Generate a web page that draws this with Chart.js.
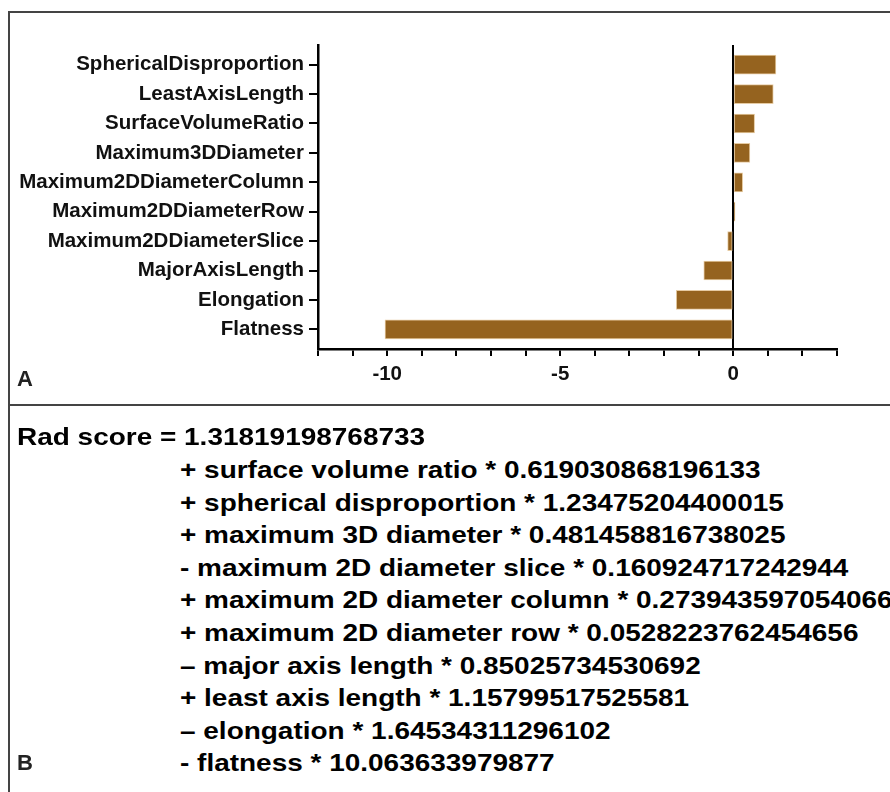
<!DOCTYPE html>
<html>
<head>
<meta charset="utf-8">
<script src="https://cdn.jsdelivr.net/npm/chart.js@4.4.1/dist/chart.umd.min.js"></script>
<style>
  html, body { margin:0; padding:0; background:#fff; width:890px; height:792px; overflow:hidden; }
  #wrap { position:relative; width:890px; height:792px; }
  #c { position:absolute; left:0; top:0; }
  .ln { position:absolute; background:#444; }
  .panel { position:absolute; font-family:"Liberation Sans", Arial, sans-serif; font-weight:bold; color:#222; font-size:22px; }
  .eq { position:absolute; font-family:"Liberation Sans", Arial, sans-serif; font-weight:bold; color:#000;
        font-size:24px; line-height:32.6px; white-space:nowrap; transform-origin:0 0; transform:scaleX(1.165); }
</style>
</head>
<body>
<div id="wrap">
  <canvas id="c" width="890" height="404"></canvas>
  <div class="ln" style="left:8px;top:11px;width:2px;height:781px;"></div>
  <div class="ln" style="left:8px;top:11px;width:882px;height:2px;"></div>
  <div class="ln" style="left:8px;top:404px;width:882px;height:2px;"></div>
  <div class="panel" style="left:17px;top:366px;">A</div>
  <div class="panel" style="left:17px;top:750px;">B</div>
  <div id="eqs"></div>
</div>
<script>
// ---- data ----
const categories = ["SphericalDisproportion","LeastAxisLength","SurfaceVolumeRatio","Maximum3DDiameter",
  "Maximum2DDiameterColumn","Maximum2DDiameterRow","Maximum2DDiameterSlice","MajorAxisLength","Elongation","Flatness"];
const coefficients = [1.23475204400015, 1.15799517525581, 0.619030868196133, 0.481458816738025,
  0.273943597054066, 0.0528223762454656, -0.160924717242944, -0.85025734530692, -1.64534311296102, -10.063633979877];
const xTickLabels = [-10, -5, 0];
const intercept = "1.31819198768733";
const equationTerms = [
  "+ surface volume ratio * 0.619030868196133",
  "+ spherical disproportion * 1.23475204400015",
  "+ maximum 3D diameter * 0.481458816738025",
  "- maximum 2D diameter slice * 0.160924717242944",
  "+ maximum 2D diameter column * 0.273943597054066",
  "+ maximum 2D diameter row * 0.0528223762454656",
  "\u2013 major axis length * 0.85025734530692",
  "+ least axis length * 1.15799517525581",
  "\u2013 elongation * 1.64534311296102",
  "- flatness * 10.063633979877"
];

// ---- equation text ----
const eqs = document.getElementById('eqs');
const firstTop = 421.4, lh = 32.6;
const l0 = document.createElement('div');
l0.className = 'eq'; l0.style.left = '17px'; l0.style.top = firstTop + 'px';
l0.textContent = "Rad score = " + intercept;
eqs.appendChild(l0);
equationTerms.forEach((t, i) => {
  const d = document.createElement('div');
  d.className = 'eq'; d.style.left = '180px'; d.style.top = (firstTop + (i + 1) * lh) + 'px';
  d.textContent = t;
  eqs.appendChild(d);
});

// ---- chart ----
const font = { family: "'Liberation Sans', Arial, sans-serif", weight: 'bold', size: 20.5 };
new Chart(document.getElementById('c'), {
  type: 'bar',
  data: {
    datasets: [{
      data: coefficients.map((v, i) => ({ x: v, y: i })),
      backgroundColor: '#95631F',
      borderColor: '#e6cba3',
      borderWidth: 1,
      borderSkipped: false,
      barThickness: 19
    }]
  },
  options: {
    indexAxis: 'y',
    responsive: false,
    animation: false,
    layout: { padding: { left: 0, top: 45, right: 53, bottom: 0 } },
    plugins: { legend: { display: false }, tooltip: { enabled: false } },
    scales: {
      x: {
        type: 'linear', min: -12, max: 3, bounds: 'data',
        afterFit: s => { s.height = 55; },
        border: { display: true, color: '#000', width: 2.5 },
        grid: {
          drawOnChartArea: true, drawTicks: true, tickLength: 7, lineWidth: 2,
          color: ctx => (ctx.tick && ctx.tick.value === 0) ? '#000' : 'rgba(0,0,0,0)',
          tickColor: '#000'
        },
        ticks: {
          stepSize: 1, autoSkip: false, maxRotation: 0, padding: 6, color: '#111', font,
          callback: v => xTickLabels.includes(v) ? String(v) : ''
        }
      },
      y: {
        type: 'linear', reverse: true, offset: false, bounds: 'data', min: -0.67, max: categories.length - 1 + 0.67,
        afterFit: s => { s.width = 318; },
        afterBuildTicks: s => { s.ticks = categories.map((_, i) => ({ value: i })); },
        afterDataLimits: s => { s.min = -0.67; s.max = categories.length - 1 + 0.67; },
        border: { display: true, color: '#000', width: 2.5 },
        grid: { drawOnChartArea: false, drawTicks: true, tickLength: 9, lineWidth: 2, color: '#000', offset: false },
        ticks: { autoSkip: false, padding: 5, color: '#111', font, callback: v => categories[v] }
      }
    }
  }
});
</script>
</body>
</html>
